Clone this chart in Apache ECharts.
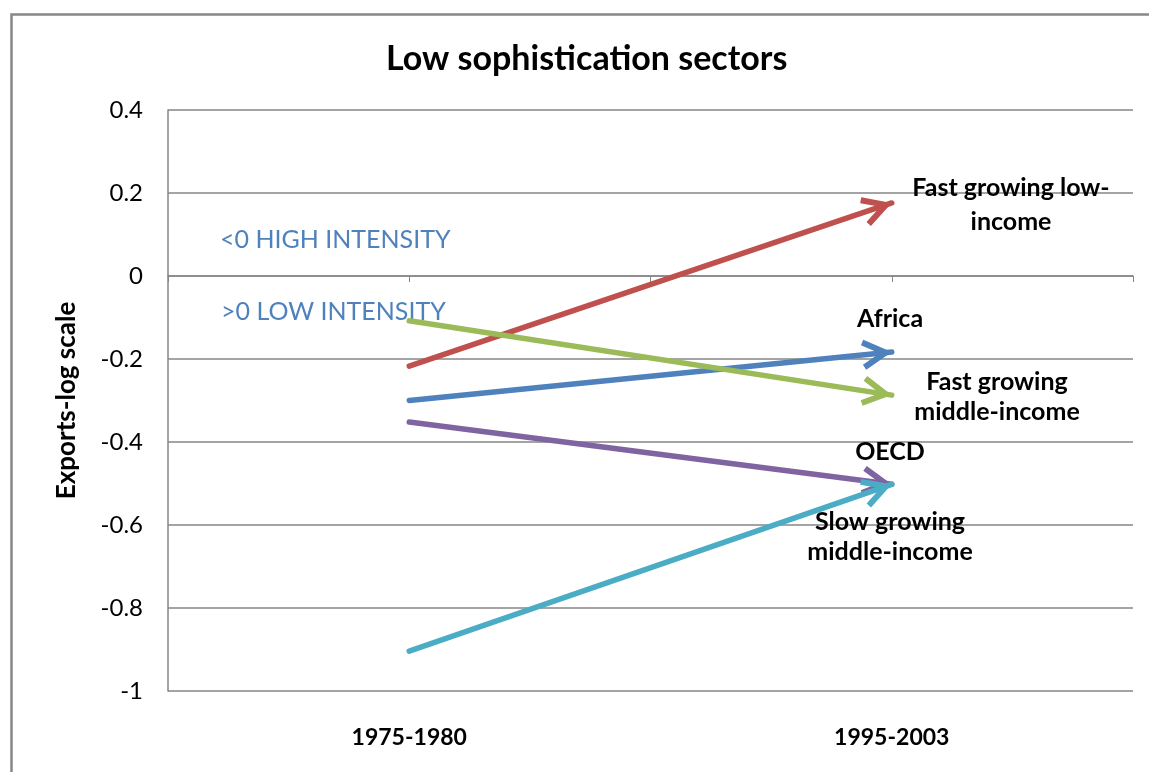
<!DOCTYPE html>
<html>
<head>
<meta charset="utf-8">
<script src="https://cdn.jsdelivr.net/npm/echarts@6/dist/echarts.min.js"></script>
<style>
  html, body { margin: 0; padding: 0; background: #fff; }
  #chart { width: 1149px; height: 772px; }
</style>
</head>
<body>
<div id="chart"></div>
<script>
// x positions: blank slots give the tick marks between/around the two periods
const xCategories = ['', '1975-1980', '', '1995-2003', ''];
const groups = [
  'Africa',
  'Fast growing low-income',
  'Fast growing middle-income',
  'OECD',
  'Slow growing middle-income'
];
const startValues = [-0.30, -0.217, -0.108, -0.352, -0.904];
const endValues = [-0.183, 0.176, -0.287, -0.502, -0.502];
const groupColors = ['#4F81BD', '#C0504D', '#9BBB59', '#8064A2', '#4BACC6'];
const yMin = -1;
const yMax = 0.4;
const yStep = 0.2;

const FONT = 'Lato, "Noto Sans", sans-serif';
const GRID = '#868686';

// open chevron; the empty points pad the box to a square centred on the tip
const arrowHead = 'path://M10.7,0 L21.4,19.25 L17.7,21.3 L10.7,8.66 L3.7,21.3 L0,19.25 Z' +
  ' M10.7,-21.3 L10.7,-21.3 M-10.6,0 L-10.6,0 M32,0 L32,0';

const chart = echarts.init(document.getElementById('chart'));

const arrowSeries = groups.map((name, i) => ({
  name: name,
  type: 'lines',
  coordinateSystem: 'cartesian2d',
  xAxisIndex: 0,
  yAxisIndex: 0,
  symbol: ['none', arrowHead],
  symbolSize: [0, 60],
  lineStyle: { color: groupColors[i], width: 5.5, opacity: 1, curveness: 0, cap: 'round' },
  z: 3 + i,
  data: [{ coords: [[1, startValues[i]], [3, endValues[i]]] }]
}));

const labelStyle = { fontFamily: FONT, fontSize: 25, fontWeight: 'bold', fill: '#000', textAlign: 'center', textVerticalAlign: 'middle' };
const noteStyle = { fontFamily: FONT, fontSize: 25, fill: '#4F81BD', textAlign: 'left', textVerticalAlign: 'middle' };

const option = {
  animation: false,
  backgroundColor: '#fff',
  title: {
    text: 'Low sophistication sectors',
    left: 381,
    top: 37,
    textStyle: { fontFamily: FONT, fontSize: 34, fontWeight: 'bold', color: '#000' }
  },
  grid: { left: 168, right: 16, top: 110, bottom: 81, containLabel: false, outerBoundsMode: 'none' },
  xAxis: [
    {
      type: 'category',
      data: xCategories,
      boundaryGap: false,
      axisLine: { onZero: true, lineStyle: { color: GRID, width: 1.5 } },
      axisTick: { show: true, length: 6, lineStyle: { color: GRID } },
      axisLabel: { show: false },
      splitLine: { show: false }
    },
    {
      type: 'category',
      data: xCategories,
      boundaryGap: false,
      position: 'bottom',
      axisLine: { show: false, onZero: false },
      axisTick: { show: false },
      axisLabel: { show: true, interval: 0, margin: 35, fontFamily: FONT, fontSize: 23, fontWeight: 'bold', color: '#000' },
      splitLine: { show: false }
    }
  ],
  yAxis: {
    type: 'value',
    min: yMin,
    max: yMax,
    interval: yStep,
    name: 'Exports-log scale',
    nameLocation: 'middle',
    nameGap: 88,
    nameTextStyle: { fontFamily: FONT, fontSize: 26, fontWeight: 'bold', color: '#000' },
    axisLine: { show: true, lineStyle: { color: GRID, width: 1.5 } },
    axisTick: { show: false },
    axisLabel: { margin: 25, fontFamily: FONT, fontSize: 24, color: '#000' },
    splitLine: { show: true, lineStyle: { color: GRID, width: 1.5 } }
  },
  graphic: [
    { type: 'rect', left: 9, top: 12, z: 0, silent: true,
      shape: { width: 1170, height: 800 },
      style: { fill: 'none', stroke: '#878787', lineWidth: 2.5 } },
    { type: 'text', x: 220, y: 240, style: Object.assign({ text: '<0 HIGH INTENSITY' }, noteStyle) },
    { type: 'text', x: 221, y: 312, style: Object.assign({ text: '>0 LOW INTENSITY' }, noteStyle) },
    { type: 'text', x: 1011, y: 205, z: 10, style: Object.assign({ text: 'Fast growing low-\nincome', lineHeight: 34 }, labelStyle) },
    { type: 'text', x: 890, y: 319, z: 10, style: Object.assign({ text: 'Africa' }, labelStyle) },
    { type: 'text', x: 997, y: 397, z: 10, style: Object.assign({ text: 'Fast growing\nmiddle-income', lineHeight: 30 }, labelStyle) },
    { type: 'text', x: 890, y: 452, z: 10, style: Object.assign({ text: 'OECD' }, labelStyle) },
    { type: 'text', x: 890, y: 537, z: 10, style: Object.assign({ text: 'Slow growing\nmiddle-income', lineHeight: 30 }, labelStyle) }
  ],
  series: arrowSeries
};

chart.setOption(option);
</script>
</body>
</html>
